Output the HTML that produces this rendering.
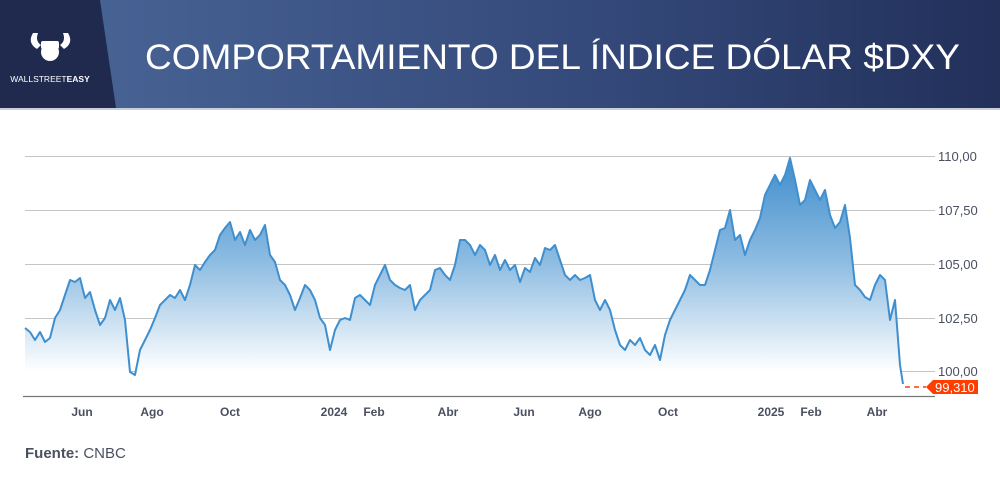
<!DOCTYPE html>
<html><head><meta charset="utf-8"><style>
html,body{margin:0;padding:0;background:#fff;width:1000px;height:497px;overflow:hidden;font-family:"Liberation Sans",sans-serif}
</style></head><body>
<svg width="1000" height="497" viewBox="0 0 1000 497" xmlns="http://www.w3.org/2000/svg" font-family="Liberation Sans, sans-serif">
<defs>
<linearGradient id="hd" x1="0" y1="0" x2="1" y2="0"><stop offset="0" stop-color="#4a6798"/><stop offset="0.6" stop-color="#34497a"/><stop offset="1" stop-color="#22305a"/></linearGradient>
<linearGradient id="fl" x1="0" y1="155" x2="0" y2="372" gradientUnits="userSpaceOnUse"><stop offset="0" stop-color="#3d8ccc"/><stop offset="0.5" stop-color="#8fbde2"/><stop offset="1" stop-color="#ffffff"/></linearGradient>
<path id="d" d="M25,328 L30,332 L35,340 L40,332 L45,342 L50,338 L55,318 L60,310 L65,295 L70,280 L75,282 L80,278 L85,298 L90,292 L95,310 L100,325 L105,318 L110,300 L115,310 L120,298 L125,320 L130,372 L135,375 L140,350 L145,340 L150,330 L155,318 L160,305 L165,300 L170,295 L175,298 L180,290 L185,300 L190,285 L195,265 L200,270 L205,262 L210,255 L215,250 L220,235 L225,228 L230,222 L235,240 L240,232 L245,245 L250,230 L255,240 L260,235 L265,225 L270,255 L275,262 L280,280 L285,285 L290,295 L295,310 L300,298 L305,285 L310,290 L315,300 L320,318 L325,325 L330,350 L335,330 L340,320 L345,318 L350,320 L355,298 L360,295 L365,300 L370,305 L375,285 L380,275 L385,265 L390,280 L395,285 L400,288 L405,290 L410,285 L415,310 L420,300 L425,295 L430,290 L435,270 L440,268 L445,275 L450,280 L455,265 L460,240 L465,240 L470,245 L475,255 L480,245 L485,250 L490,265 L495,255 L500,270 L505,260 L510,270 L515,265 L520,282 L525,268 L530,272 L535,258 L540,265 L545,248 L550,250 L555,245 L560,260 L565,275 L570,280 L575,275 L580,280 L585,278 L590,275 L595,300 L600,310 L605,300 L610,310 L615,330 L620,345 L625,350 L630,340 L635,345 L640,338 L645,350 L650,355 L655,345 L660,360 L665,335 L670,320 L675,310 L680,300 L685,290 L690,275 L695,280 L700,285 L705,285 L710,270 L715,250 L720,230 L725,228 L730,210 L735,240 L740,235 L745,255 L750,240 L755,230 L760,218 L765,195 L770,185 L775,175 L780,185 L785,175 L790,158 L795,180 L800,205 L805,200 L810,180 L815,190 L820,200 L825,190 L830,215 L835,228 L840,222 L845,205 L850,238 L855,285 L860,290 L865,297 L870,300 L875,285 L880,275 L885,280 L890,320 L895,300 L900,365 L903,384"/>
</defs>
<rect x="0" y="0" width="1000" height="108" fill="url(#hd)"/>
<polygon points="0,0 100,0 116,108 0,108" fill="#1f2a4e"/>
<rect x="0" y="108" width="1000" height="2" fill="#c9cfda"/>
<g fill="#fff">
<path d="M33,33 q-6,10 4,16 l4,-4 q-6,-4 -3,-12z"/>
<path d="M68,33 q6,10 -4,16 l-4,-4 q6,-4 3,-12z"/>
<circle cx="50" cy="52" r="9"/>
<rect x="41" y="41" width="18" height="8" rx="2"/>
</g>
<text x="50" y="82" font-size="8.5" fill="#fff" text-anchor="middle">WALLSTREET<tspan font-weight="bold">EASY</tspan></text>
<text x="145" y="69" font-size="35" fill="#fff" textLength="815" lengthAdjust="spacingAndGlyphs">COMPORTAMIENTO DEL ÍNDICE DÓLAR $DXY</text>
<g stroke="#c4c4c4" stroke-width="1">
<line x1="25" y1="156.5" x2="935" y2="156.5"/>
<line x1="25" y1="210.5" x2="935" y2="210.5"/>
<line x1="25" y1="264.5" x2="935" y2="264.5"/>
<line x1="25" y1="318.5" x2="935" y2="318.5"/>
<line x1="25" y1="371.5" x2="935" y2="371.5"/>
</g>
<line x1="23" y1="396.5" x2="935" y2="396.5" stroke="#777" stroke-width="1.2"/>
<g font-size="13" fill="#4a5060">
<text x="938" y="161">110,00</text>
<text x="938" y="215">107,50</text>
<text x="938" y="269">105,00</text>
<text x="938" y="323">102,50</text>
<text x="938" y="376">100,00</text>
</g>
<path d="M25,328 L30,332 L35,340 L40,332 L45,342 L50,338 L55,318 L60,310 L65,295 L70,280 L75,282 L80,278 L85,298 L90,292 L95,310 L100,325 L105,318 L110,300 L115,310 L120,298 L125,320 L130,372 L135,375 L140,350 L145,340 L150,330 L155,318 L160,305 L165,300 L170,295 L175,298 L180,290 L185,300 L190,285 L195,265 L200,270 L205,262 L210,255 L215,250 L220,235 L225,228 L230,222 L235,240 L240,232 L245,245 L250,230 L255,240 L260,235 L265,225 L270,255 L275,262 L280,280 L285,285 L290,295 L295,310 L300,298 L305,285 L310,290 L315,300 L320,318 L325,325 L330,350 L335,330 L340,320 L345,318 L350,320 L355,298 L360,295 L365,300 L370,305 L375,285 L380,275 L385,265 L390,280 L395,285 L400,288 L405,290 L410,285 L415,310 L420,300 L425,295 L430,290 L435,270 L440,268 L445,275 L450,280 L455,265 L460,240 L465,240 L470,245 L475,255 L480,245 L485,250 L490,265 L495,255 L500,270 L505,260 L510,270 L515,265 L520,282 L525,268 L530,272 L535,258 L540,265 L545,248 L550,250 L555,245 L560,260 L565,275 L570,280 L575,275 L580,280 L585,278 L590,275 L595,300 L600,310 L605,300 L610,310 L615,330 L620,345 L625,350 L630,340 L635,345 L640,338 L645,350 L650,355 L655,345 L660,360 L665,335 L670,320 L675,310 L680,300 L685,290 L690,275 L695,280 L700,285 L705,285 L710,270 L715,250 L720,230 L725,228 L730,210 L735,240 L740,235 L745,255 L750,240 L755,230 L760,218 L765,195 L770,185 L775,175 L780,185 L785,175 L790,158 L795,180 L800,205 L805,200 L810,180 L815,190 L820,200 L825,190 L830,215 L835,228 L840,222 L845,205 L850,238 L855,285 L860,290 L865,297 L870,300 L875,285 L880,275 L885,280 L890,320 L895,300 L900,365 L903,384 L903,390 L25,390 Z" fill="url(#fl)"/>
<use href="#d" fill="none" stroke="#3f8fcf" stroke-width="2" stroke-linejoin="round"/>
<line x1="905" y1="387" x2="926" y2="387" stroke="#ff3d00" stroke-width="1.5" stroke-dasharray="5,4"/>
<polygon points="926,387 933,380 978,380 978,394 933,394" fill="#ff3d00"/>
<text x="935" y="392" font-size="13" fill="#fff">99,310</text>
<g font-size="12" font-weight="bold" fill="#4a5060" text-anchor="middle">
<text x="82" y="416">Jun</text><text x="152" y="416">Ago</text><text x="230" y="416">Oct</text>
<text x="334" y="416">2024</text><text x="374" y="416">Feb</text><text x="448" y="416">Abr</text>
<text x="524" y="416">Jun</text><text x="590" y="416">Ago</text><text x="668" y="416">Oct</text>
<text x="771" y="416">2025</text><text x="811" y="416">Feb</text><text x="877" y="416">Abr</text>
</g>
<text x="25" y="458" font-size="15" fill="#4a5060"><tspan font-weight="bold">Fuente:</tspan> CNBC</text>
</svg>
</body></html>
